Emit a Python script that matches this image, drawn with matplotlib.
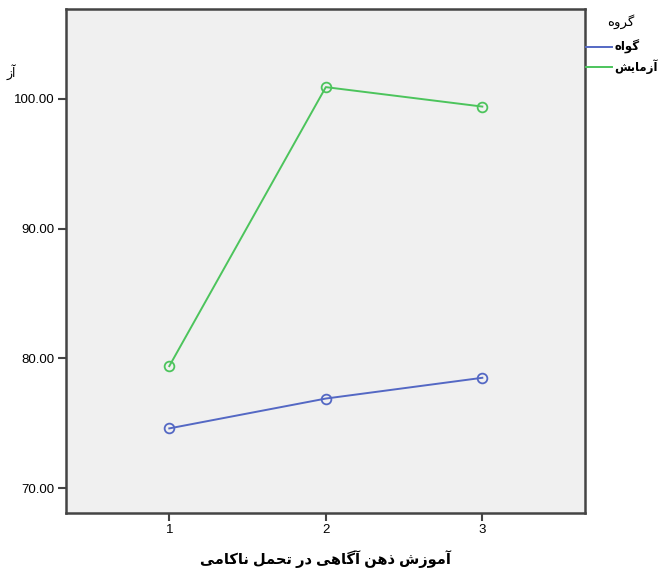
import matplotlib
matplotlib.use("Agg")
import matplotlib.pyplot as plt
from matplotlib.lines import Line2D

plt.rcParams['font.family'] = ['Liberation Sans', 'DejaVu Sans']

# data
sessions = [1, 2, 3]
control = [74.6, 76.9, 78.5]      # گواه
experiment = [79.4, 100.9, 99.4]  # آزمایش
yticks = [70, 80, 90, 100]

x_title = "آموزش ذهن آگاهی در تحمل ناکامی"
y_title = "آز"   # only this part of the y title is visible in the source
legend_title = "گروه"
group_names = ["گواه", "آزمایش"]

# presentation forms: isolated, final, initial, medial (None = non-joining forward)
FORMS = {
    'آ': ('\uFE81', '\uFE82', None, None),
    'ا': ('\uFE8D', '\uFE8E', None, None),
    'ت': ('\uFE95', '\uFE96', '\uFE97', '\uFE98'),
    'ح': ('\uFEA1', '\uFEA2', '\uFEA3', '\uFEA4'),
    'د': ('\uFEA9', '\uFEAA', None, None),
    'ذ': ('\uFEAB', '\uFEAC', None, None),
    'ر': ('\uFEAD', '\uFEAE', None, None),
    'ز': ('\uFEAF', '\uFEB0', None, None),
    'ش': ('\uFEB5', '\uFEB6', '\uFEB7', '\uFEB8'),
    'ل': ('\uFEDD', '\uFEDE', '\uFEDF', '\uFEE0'),
    'م': ('\uFEE1', '\uFEE2', '\uFEE3', '\uFEE4'),
    'ن': ('\uFEE5', '\uFEE6', '\uFEE7', '\uFEE8'),
    'ه': ('\uFEE9', '\uFEEA', '\uFEEB', '\uFEEC'),
    'و': ('\uFEED', '\uFEEE', None, None),
    'ی': ('\uFBFC', '\uFBFD', '\uFBFE', '\uFBFF'),
    'ک': ('\uFB8E', '\uFB8F', '\uFB90', '\uFB91'),
    'گ': ('\uFB92', '\uFB93', '\uFB94', '\uFB95'),
}


def shape(text):
    out = []
    n = len(text)
    for i, ch in enumerate(text):
        if ch not in FORMS:
            out.append(ch)
            continue
        prev = text[i - 1] if i > 0 else ''
        nxt = text[i + 1] if i < n - 1 else ''
        joins_prev = prev in FORMS and FORMS[prev][2] is not None
        joins_next = nxt in FORMS and FORMS[ch][2] is not None
        iso, fin, ini, med = FORMS[ch]
        if joins_prev and joins_next:
            out.append(med)
        elif joins_prev:
            out.append(fin)
        elif joins_next:
            out.append(ini)
        else:
            out.append(iso)
    return ''.join(out)[::-1]


fig = plt.figure(figsize=(6.61, 5.72), dpi=100)
ax = fig.add_axes([66 / 661, 1 - 513 / 572, (585 - 66) / 661, (513 - 9) / 572])
ax.set_facecolor('#f0f0f0')

blue = '#5468c4'
green = '#4cc45c'
ax.plot(sessions, control, color=blue, lw=1.4, marker='o', ms=7,
        mfc='none', mec=blue, mew=1.3)
ax.plot(sessions, experiment, color=green, lw=1.4, marker='o', ms=7,
        mfc='none', mec=green, mew=1.3)

ax.set_xlim(0.34, 3.656)
ax.set_ylim(68.08, 106.92)
ax.set_xticks(sessions)
ax.set_xticklabels([str(s) for s in sessions])
ax.set_yticks(yticks)
ax.set_yticklabels([f"{v:.2f}" for v in yticks])
ax.tick_params(length=6, width=1.5, color='#444444', labelsize=9.5, pad=2)

for s in ax.spines.values():
    s.set_color('#444444')
    s.set_linewidth(1.8)

ax.set_xlabel(shape(x_title), fontsize=10.5, fontweight='bold', labelpad=10)

# horizontal y title at the top-left
fig.text(16 / 661, 1 - 72 / 572, shape(y_title), ha='right', va='center',
         fontsize=9)

# legend outside on the right
fig.text(621 / 661, 1 - 22 / 572, shape(legend_title), ha='center',
         va='center', fontsize=9.5)
handles = [Line2D([], [], color=blue, lw=1.4), Line2D([], [], color=green, lw=1.4)]
leg = ax.legend(handles, [shape(g) for g in group_names],
                loc='upper left', bbox_to_anchor=(586 / 661, 1 - 40 / 572),
                bbox_transform=fig.transFigure, frameon=False,
                prop={'size': 8.5, 'weight': 'bold'}, handlelength=2.2,
                handletextpad=0.2, borderaxespad=0, labelspacing=0.45,
                borderpad=0)

fig.savefig('out.png', dpi=100)
